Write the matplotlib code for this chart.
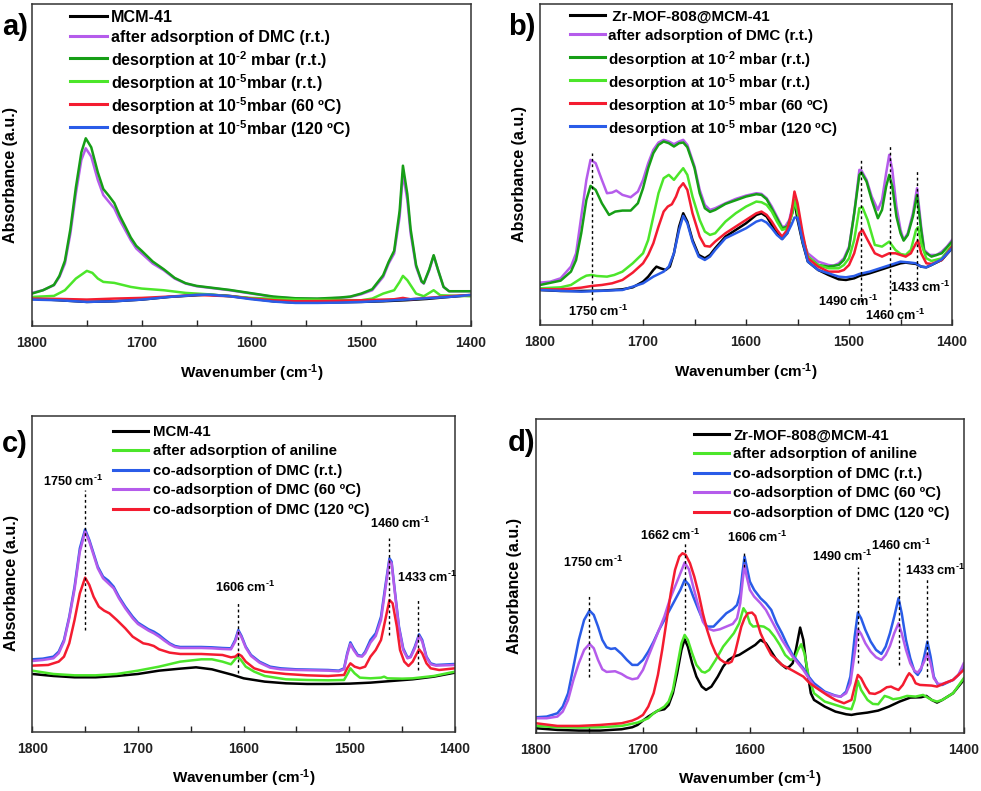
import matplotlib
matplotlib.use("Agg")
import matplotlib.pyplot as plt
from matplotlib.ticker import MultipleLocator

plt.rcParams['font.family'] = ['Liberation Sans', 'DejaVu Sans']
plt.rcParams['font.weight'] = 'bold'
plt.rcParams['mathtext.fontset'] = 'custom'
plt.rcParams['mathtext.rm'] = 'Liberation Sans:bold'
plt.rcParams['mathtext.bf'] = 'Liberation Sans:bold'
plt.rcParams['mathtext.it'] = 'Liberation Sans:bold'

# colours
BLACK = '#000000'
PURPLE = '#B55CEB'
DGREEN = '#169E16'
LIME = '#4CE62A'
RED = '#F41C30'
BLUE = '#2A5CE8'

# ---------------- panel a) MCM-41 + DMC ----------------
a_black_wn = [1800, 1775, 1750, 1725, 1700, 1675, 1650, 1640, 1620, 1600, 1580, 1560, 1540, 1520, 1500, 1480, 1460, 1440, 1420, 1400]
a_black_ab = [82, 77, 72, 74, 79, 87, 92, 94, 90, 82, 74, 70, 70, 71, 72, 74, 77, 81, 87, 92]

a_purple_wn = [1800, 1790, 1780, 1775, 1770, 1765, 1760, 1755, 1751, 1746, 1740, 1735, 1730, 1725, 1720, 1715, 1710, 1705, 1700, 1690,
               1680, 1670, 1660, 1650, 1640, 1620, 1600, 1580, 1560, 1540, 1520, 1510, 1500, 1490, 1480, 1475, 1470, 1465, 1462, 1458,
               1455, 1450, 1445, 1443, 1438, 1434, 1430, 1425, 1420, 1400]
a_purple_ab = [99, 107, 122, 147, 187, 277, 397, 497, 532, 507, 437, 392, 372, 352, 317, 287, 257, 232, 217, 187,
               167, 142, 127, 119, 115, 107, 97, 87, 82, 81, 84, 87, 95, 107, 147, 187, 217, 327, 457, 377,
               277, 177, 132, 127, 167, 210, 167, 117, 104, 104]

a_dgreen_wn = a_purple_wn
a_dgreen_ab = [97, 107, 123, 150, 195, 290, 415, 520, 562, 535, 460, 410, 390, 368, 330, 298, 265, 240, 225, 193,
               170, 144, 128, 120, 116, 108, 98, 88, 83, 82, 85, 88, 97, 110, 152, 192, 225, 345, 480, 395,
               290, 182, 134, 128, 170, 212, 168, 117, 104, 104]

a_lime_wn = [1800, 1780, 1770, 1760, 1750, 1745, 1740, 1735, 1725, 1710, 1700, 1680, 1660, 1640, 1620, 1600, 1560, 1500, 1490, 1480,
             1470, 1465, 1462, 1458, 1450, 1443, 1434, 1428, 1400]
a_lime_ab = [87, 90, 107, 142, 165, 159, 142, 132, 129, 117, 112, 107, 99, 95, 89, 84, 79, 77, 82, 97,
             107, 132, 150, 137, 97, 89, 107, 92, 89]

a_red_wn = [1800, 1775, 1750, 1725, 1700, 1675, 1650, 1620, 1600, 1580, 1560, 1530, 1500, 1470, 1462, 1455, 1440, 1420, 1400]
a_red_ab = [82, 81, 79, 82, 84, 88, 93, 89, 82, 77, 74, 75, 77, 80, 84, 80, 84, 89, 93]

a_blue_wn = [1800, 1775, 1750, 1725, 1700, 1675, 1650, 1640, 1620, 1600, 1580, 1560, 1540, 1520, 1500, 1480, 1460, 1440, 1420, 1400]
a_blue_ab = [79, 77, 72, 74, 79, 87, 93, 94, 89, 80, 73, 69, 69, 70, 72, 75, 79, 83, 87, 93]

# ---------------- panel b) Zr-MOF-808@MCM-41 + DMC ----------------
b_black_wn = [1800, 1780, 1760, 1740, 1720, 1710, 1700, 1695, 1690, 1687, 1683, 1678, 1674, 1670, 1665, 1661, 1657, 1652, 1646, 1640,
              1635, 1630, 1620, 1610, 1600, 1590, 1585, 1580, 1575, 1570, 1565, 1560, 1556, 1553, 1550, 1545, 1540, 1530, 1520, 1510,
              1503, 1495, 1490, 1480, 1470, 1460, 1450, 1445, 1440, 1435, 1430, 1425, 1420, 1410, 1400]
b_black_ab = [105, 102, 102, 103, 107, 113, 130, 145, 165, 175, 170, 165, 175, 215, 295, 335, 310, 255, 210, 200,
              210, 230, 265, 285, 305, 330, 335, 325, 300, 275, 258, 275, 335, 375, 315, 245, 190, 165, 150, 137,
              135, 140, 147, 155, 165, 175, 185, 187, 185, 183, 175, 173, 180, 195, 230]

b_blue_wn = [1800, 1760, 1720, 1700, 1690, 1680, 1675, 1670, 1665, 1661, 1657, 1652, 1646, 1640, 1635, 1630, 1620, 1610, 1600, 1590,
             1585, 1580, 1575, 1570, 1565, 1560, 1556, 1553, 1550, 1545, 1540, 1530, 1520, 1510, 1503, 1495, 1490, 1480, 1470, 1460,
             1450, 1440, 1435, 1430, 1425, 1420, 1410, 1400]
b_blue_ab = [105, 100, 105, 125, 145, 160, 175, 215, 285, 327, 305, 250, 205, 195, 205, 225, 260, 275, 290, 310,
             315, 307, 290, 270, 257, 275, 300, 322, 322, 250, 190, 165, 155, 145, 143, 147, 153, 160, 170, 180,
             190, 187, 185, 175, 173, 180, 197, 230]

b_red_wn = [1800, 1780, 1770, 1760, 1750, 1740, 1730, 1720, 1710, 1700, 1695, 1690, 1685, 1680, 1676, 1672, 1668, 1665, 1661, 1657,
            1652, 1645, 1640, 1635, 1630, 1620, 1610, 1600, 1590, 1585, 1580, 1575, 1570, 1565, 1560, 1556, 1553, 1550, 1545, 1540,
            1530, 1520, 1510, 1505, 1500, 1495, 1490, 1487, 1482, 1475, 1468, 1461, 1455, 1450, 1445, 1440, 1435, 1433, 1430, 1425,
            1420, 1410, 1400]
b_red_ab = [107, 107, 109, 112, 117, 120, 125, 135, 157, 185, 210, 245, 295, 340, 355, 362, 385, 410, 425, 405,
            335, 265, 237, 235, 250, 275, 295, 315, 335, 340, 330, 310, 285, 265, 285, 335, 400, 365, 275, 200,
            175, 160, 160, 165, 180, 215, 275, 285, 255, 215, 205, 215, 215, 210, 205, 215, 245, 253, 215, 185,
            183, 195, 235]

b_lime_wn = [1800, 1780, 1770, 1760, 1755, 1750, 1745, 1735, 1728, 1720, 1710, 1700, 1695, 1690, 1685, 1680, 1675, 1670, 1665, 1661,
             1657, 1652, 1645, 1640, 1635, 1630, 1620, 1610, 1600, 1590, 1585, 1580, 1575, 1570, 1565, 1560, 1556, 1553, 1550, 1545,
             1540, 1530, 1520, 1510, 1505, 1500, 1495, 1490, 1487, 1482, 1475, 1468, 1461, 1455, 1450, 1445, 1440, 1435, 1433, 1430,
             1425, 1420, 1410, 1400]
b_lime_ab = [110, 113, 120, 140, 148, 150, 147, 145, 150, 160, 185, 215, 255, 325, 395, 440, 450, 435, 455, 470,
             450, 385, 315, 280, 270, 275, 310, 335, 355, 370, 368, 360, 340, 310, 285, 290, 325, 375, 335, 265,
             205, 180, 170, 170, 180, 200, 255, 350, 353, 315, 240, 235, 250, 225, 213, 210, 225, 285, 293, 245,
             200, 192, 200, 240]

b_dgreen_wn = [1800, 1780, 1770, 1765, 1760, 1755, 1751, 1746, 1740, 1733, 1727, 1720, 1712, 1705, 1700, 1695, 1690, 1685, 1680, 1675,
               1670, 1665, 1661, 1657, 1650, 1645, 1640, 1635, 1630, 1620, 1600, 1590, 1585, 1580, 1570, 1565, 1560, 1555, 1552, 1549,
               1545, 1540, 1530, 1520, 1510, 1505, 1500, 1495, 1490, 1488, 1483, 1478, 1472, 1468, 1464, 1461, 1458, 1454, 1450, 1447,
               1443, 1438, 1434, 1430, 1427, 1420, 1410, 1400]
b_dgreen_ab = [120, 133, 160, 195, 275, 375, 417, 405, 365, 330, 340, 343, 343, 365, 410, 470, 515, 540, 550, 545,
               535, 545, 547, 533, 470, 395, 350, 339, 345, 363, 385, 392, 390, 377, 320, 290, 295, 335, 375, 325,
               250, 205, 180, 175, 180, 195, 230, 335, 450, 457, 430, 375, 320, 345, 415, 450, 415, 325, 275, 253,
               270, 325, 390, 285, 220, 205, 215, 250]

b_purple_wn = [1800, 1790, 1780, 1770, 1765, 1760, 1755, 1751, 1746, 1740, 1735, 1730, 1726, 1720, 1712, 1705, 1700, 1695, 1690, 1685,
               1680, 1675, 1670, 1665, 1661, 1657, 1650, 1645, 1640, 1635, 1630, 1620, 1610, 1600, 1590, 1585, 1580, 1575, 1570, 1565,
               1562, 1558, 1555, 1552, 1549, 1545, 1540, 1530, 1520, 1515, 1510, 1505, 1500, 1495, 1490, 1488, 1483, 1478, 1472, 1468,
               1464, 1461, 1458, 1454, 1450, 1447, 1443, 1438, 1434, 1430, 1427, 1422, 1415, 1410, 1405, 1400]
b_purple_ab = [127, 130, 140, 175, 215, 325, 435, 495, 485, 435, 395, 397, 403, 390, 383, 400, 435, 485, 525, 547,
               555, 550, 542, 550, 555, 540, 475, 405, 360, 345, 350, 365, 378, 388, 395, 393, 380, 355, 325, 295,
               295, 315, 355, 375, 325, 255, 215, 190, 180, 178, 185, 200, 235, 335, 465, 463, 435, 385, 345, 375,
               455, 510, 465, 355, 285, 255, 275, 335, 410, 295, 225, 210, 210, 220, 235, 255]

# ---------------- panel c) MCM-41 + aniline + DMC ----------------
c_black_wn = [1800, 1780, 1760, 1740, 1720, 1700, 1680, 1660, 1645, 1630, 1610, 1600, 1580, 1560, 1540, 1520, 1500, 1480, 1460, 1440, 1420, 1400]
c_black_ab = [175, 169, 165, 165, 169, 175, 185, 191, 195, 189, 172, 162, 152, 147, 145, 145, 146, 149, 154, 159, 167, 179]

c_lime_wn = [1800, 1780, 1760, 1740, 1720, 1700, 1680, 1660, 1640, 1630, 1620, 1612, 1606, 1603, 1598, 1590, 1580, 1560, 1540, 1520,
             1505, 1501, 1499, 1495, 1490, 1480, 1470, 1467, 1464, 1450, 1440, 1420, 1400]
c_lime_ab = [185, 175, 171, 171, 175, 185, 197, 212, 219, 219, 212, 204, 227, 219, 197, 182, 169, 159, 157, 156,
             157, 179, 192, 177, 164, 162, 164, 167, 162, 161, 162, 169, 182]

c_blue_wn = [1800, 1790, 1780, 1775, 1770, 1765, 1760, 1755, 1750, 1746, 1742, 1738, 1733, 1728, 1723, 1718, 1712, 1705, 1700, 1695,
             1690, 1685, 1680, 1675, 1670, 1665, 1660, 1640, 1630, 1620, 1612, 1608, 1605, 1602, 1598, 1593, 1585, 1575, 1565, 1550,
             1520, 1510, 1505, 1502, 1499, 1496, 1492, 1488, 1485, 1480, 1475, 1470, 1466, 1462, 1460, 1457, 1453, 1449, 1445, 1442,
             1438, 1434, 1431, 1427, 1423, 1418, 1400]
c_blue_ab = [219, 221, 227, 242, 277, 347, 437, 552, 609, 577, 537, 497, 467, 455, 437, 407, 377, 347, 329, 319,
             309, 302, 292, 279, 267, 259, 256, 256, 255, 253, 252, 277, 307, 289, 257, 232, 212, 197, 192, 189,
             187, 185, 192, 237, 270, 252, 232, 229, 242, 277, 297, 347, 437, 522, 512, 427, 317, 252, 225, 227,
             257, 294, 277, 227, 207, 202, 205]

c_purple_wn = c_blue_wn
c_purple_ab = [214, 217, 222, 237, 272, 342, 429, 542, 602, 572, 532, 492, 462, 447, 432, 402, 372, 342, 325, 315,
               305, 297, 287, 275, 264, 256, 253, 253, 252, 250, 249, 272, 302, 285, 254, 229, 209, 194, 189, 187,
               185, 183, 189, 232, 265, 247, 229, 227, 237, 269, 289, 337, 427, 515, 507, 422, 312, 247, 222, 225,
               252, 289, 272, 224, 204, 200, 202]

c_red_wn = [1800, 1785, 1775, 1770, 1765, 1760, 1755, 1750, 1746, 1742, 1737, 1732, 1727, 1720, 1712, 1705, 1700, 1695, 1690, 1685,
            1680, 1670, 1660, 1640, 1620, 1612, 1608, 1605, 1602, 1598, 1590, 1580, 1560, 1540, 1520, 1505, 1502, 1499, 1495, 1490,
            1485, 1480, 1475, 1470, 1466, 1462, 1459, 1455, 1452, 1448, 1444, 1440, 1436, 1434, 1431, 1427, 1423, 1415, 1400]
c_red_ab = [200, 202, 212, 227, 267, 337, 417, 464, 442, 407, 377, 365, 357, 337, 312, 287, 277, 267, 264, 259,
            249, 239, 235, 235, 232, 225, 227, 235, 229, 212, 192, 182, 175, 171, 169, 172, 192, 207, 197, 192,
            197, 227, 247, 277, 337, 397, 387, 317, 247, 212, 199, 212, 237, 249, 237, 207, 192, 187, 192]

# ---------------- panel d) Zr-MOF-808@MCM-41 + aniline + DMC ----------------
d_black_wn = [1800, 1780, 1760, 1740, 1720, 1710, 1705, 1700, 1695, 1690, 1686, 1680, 1676, 1672, 1668, 1664, 1661, 1658, 1654, 1650,
              1645, 1641, 1636, 1630, 1625, 1620, 1615, 1610, 1605, 1600, 1595, 1590, 1585, 1580, 1575, 1570, 1566, 1563, 1560, 1557,
              1553, 1550, 1547, 1543, 1540, 1530, 1520, 1510, 1505, 1500, 1490, 1480, 1470, 1460, 1450, 1440, 1435, 1430, 1425, 1420,
              1410, 1400]
d_black_ab = [15, 10, 8, 8, 12, 18, 25, 38, 50, 60, 68, 72, 85, 120, 180, 250, 282, 260, 210, 170,
              140, 130, 140, 170, 200, 220, 230, 235, 245, 255, 265, 280, 270, 245, 220, 205, 195, 200, 210, 250,
              317, 280, 200, 120, 100, 80, 65, 57, 55, 58, 62, 68, 80, 95, 107, 108, 112, 100, 92, 100,
              120, 160]

d_lime_wn = [1800, 1780, 1760, 1740, 1720, 1705, 1695, 1690, 1685, 1680, 1676, 1672, 1668, 1664, 1661, 1658, 1654, 1650, 1645, 1642,
             1638, 1632, 1625, 1620, 1615, 1610, 1606, 1603, 1600, 1597, 1592, 1587, 1582, 1577, 1572, 1567, 1562, 1558, 1555, 1552,
             1549, 1545, 1540, 1530, 1520, 1510, 1505, 1502, 1499, 1496, 1490, 1485, 1480, 1474, 1470, 1466, 1460, 1453, 1445, 1438,
             1430, 1425, 1420, 1410, 1400]
d_lime_ab = [22, 18, 17, 18, 22, 32, 45, 60, 70, 80, 95, 130, 200, 270, 295, 280, 240, 205, 185, 182,
             190, 220, 260, 280, 300, 330, 375, 360, 330, 320, 322, 320, 310, 290, 265, 235, 220, 225, 250, 267,
             240, 170, 120, 95, 85, 75, 72, 100, 157, 130, 100, 88, 87, 112, 108, 102, 105, 112, 110, 115,
             100, 95, 100, 120, 165]

d_blue_wn = [1800, 1790, 1780, 1775, 1770, 1765, 1760, 1755, 1750, 1746, 1742, 1738, 1734, 1730, 1726, 1720, 1715, 1710, 1705, 1700,
             1695, 1690, 1685, 1680, 1675, 1670, 1665, 1661, 1657, 1653, 1648, 1644, 1640, 1634, 1628, 1622, 1616, 1612, 1609, 1607,
             1605, 1603, 1600, 1596, 1590, 1585, 1580, 1575, 1570, 1565, 1560, 1555, 1550, 1545, 1540, 1530, 1520, 1515, 1510, 1506,
             1502, 1499, 1496, 1492, 1487, 1482, 1477, 1473, 1469, 1465, 1461, 1458, 1454, 1450, 1446, 1443, 1440, 1437, 1434, 1431,
             1428, 1424, 1420, 1410, 1405, 1400]
d_blue_ab = [48, 50, 60, 80, 120, 200, 280, 340, 368, 355, 320, 280, 258, 253, 255, 238, 220, 205, 205, 220,
             245, 275, 310, 340, 370, 400, 430, 460, 445, 410, 370, 340, 320, 320, 340, 360, 372, 385, 420, 480,
             530, 500, 455, 430, 405, 390, 370, 330, 300, 265, 235, 215, 195, 170, 150, 125, 113, 110, 125, 170,
             290, 362, 345, 310, 275, 250, 238, 260, 300, 350, 405, 360, 280, 225, 185, 175, 190, 230, 275, 230,
             170, 145, 145, 160, 175, 200]

d_purple_wn = d_blue_wn
d_purple_ab = [45, 45, 50, 65, 100, 160, 210, 250, 268, 255, 220, 192, 184, 185, 186, 178, 168, 162, 165, 190,
               230, 270, 310, 350, 400, 440, 480, 512, 492, 440, 380, 335, 315, 308, 312, 320, 328, 345, 390, 450,
               505, 470, 430, 410, 390, 370, 340, 310, 280, 255, 230, 210, 190, 165, 142, 122, 112, 110, 120, 150,
               240, 312, 298, 270, 245, 228, 220, 235, 262, 300, 330, 300, 250, 210, 187, 182, 195, 215, 240, 210,
               165, 148, 148, 160, 175, 210]

d_red_wn = [1800, 1780, 1760, 1740, 1720, 1710, 1705, 1700, 1695, 1690, 1686, 1682, 1678, 1674, 1670, 1666, 1663, 1660, 1656, 1652,
            1648, 1644, 1640, 1636, 1632, 1628, 1624, 1620, 1617, 1614, 1611, 1608, 1605, 1602, 1598, 1595, 1590, 1585, 1580, 1575,
            1570, 1560, 1550, 1544, 1535, 1528, 1520, 1512, 1505, 1502, 1499, 1496, 1492, 1488, 1483, 1478, 1472, 1468, 1465, 1461,
            1457, 1453, 1451, 1448, 1445, 1441, 1430, 1425, 1418, 1410, 1400]
d_red_ab = [30, 22, 22, 25, 30, 38, 45, 55, 80, 120, 175, 250, 335, 420, 490, 530, 540, 535, 510, 470,
            420, 360, 310, 270, 240, 222, 213, 210, 215, 240, 280, 320, 345, 360, 362, 352, 300, 265, 235, 222,
            205, 188, 170, 150, 130, 115, 100, 90, 100, 140, 175, 165, 140, 120, 118, 125, 138, 140, 135, 130,
            145, 170, 180, 170, 150, 145, 143, 140, 150, 160, 190]

# legend texts (superscript written with a plain hyphen, as in the figure)
dmc_labels_a = ['MCM-41', 'after adsorption of DMC (r.t.)',
                r'desorption at 10$^{\text{-}2}$ mbar (r.t.)', r'desorption at 10$^{\text{-}5}$mbar (r.t.)',
                r'desorption at 10$^{\text{-}5}$mbar (60 ºC)', r'desorption at 10$^{\text{-}5}$mbar (120 ºC)']
dmc_labels_b = [' Zr-MOF-808@MCM-41', 'after adsorption of DMC (r.t.)',
                r'desorption at 10$^{\text{-}2}$ mbar (r.t.)', r'desorption at 10$^{\text{-}5}$ mbar (r.t.)',
                r'desorption at 10$^{\text{-}5}$ mbar (60 ºC)', r'desorption at 10$^{\text{-}5}$ mbar (120 ºC)']
ani_labels_c = ['MCM-41', 'after adsorption of aniline', 'co-adsorption of DMC (r.t.)',
                'co-adsorption of DMC (60 ºC)', 'co-adsorption of DMC (120 ºC)']
ani_labels_d = ['Zr-MOF-808@MCM-41', 'after adsorption of aniline', 'co-adsorption of DMC (r.t.)',
                'co-adsorption of DMC (60 ºC)', 'co-adsorption of DMC (120 ºC)']

# peak markers: (wavenumber of line, line bottom, line top, label, label x, label y)
b_marks = [(1750, 75, 517, '1750', 1744, 42), (1488, 70, 497, '1490', 1501, 72),
           (1460, 60, 542, '1460', 1455, 30), (1434, 135, 463, '1433', 1431, 114)]
c_marks = [(1750, 307, 727, '1750', 1761, 752), (1605, 177, 392, '1606', 1599, 434),
           (1462, 292, 582, '1460', 1452, 627), (1435, 187, 399, '1433', 1426, 466)]
d_marks = [(1750, 170, 415, '1750', 1747, 514), (1660.5, 310, 575, '1662', 1675, 595),
           (1605.5, 500, 545, '1606', 1593, 588), (1499, 210, 500, '1490', 1514, 532),
           (1461, 205, 530, '1460', 1459, 563), (1434.5, 170, 465, '1433', 1427, 490)]

fig = plt.figure(figsize=(9.81, 7.91), dpi=100)


def make_panel(rect, ymax, curves, labels, leg, marks, letter, letter_xy):
    ax = fig.add_axes(rect)
    for wn, ab, col in curves:
        ax.plot(wn, ab, color=col, lw=1.8, solid_joinstyle='round')
    ax.set_xlim(1800, 1400)
    ax.set_ylim(0, ymax)
    ax.set_yticks([])
    ax.xaxis.set_major_locator(MultipleLocator(100))
    ax.xaxis.set_minor_locator(MultipleLocator(50))
    ax.tick_params(axis='x', which='both', direction='in', length=4, width=1,
                   top=False, labelsize=10, pad=7, colors='#222222')
    for lab in ax.get_xticklabels():
        lab.set_fontweight('bold')
    for s in ax.spines.values():
        s.set_linewidth(1.1)
        s.set_color('#333333')
    ax.set_xlabel(r'Wavenumber (cm$^{\text{-}1}$)', fontsize=11, fontweight='bold')
    ax.xaxis.set_label_coords(0.5, -0.112)
    ax.set_ylabel('Absorbance (a.u.)', fontsize=11.6, fontweight='bold')
    ax.yaxis.set_label_coords(-0.032, 0.47)

    # legend rows drawn by hand so that rows sit where they do in the figure
    hx0, hx1, tx, rows, fs = leg
    for (wn, ab, col), lab, ry in zip(curves, labels, rows):
        ax.plot([hx0, hx1], [ry, ry], color=col, lw=2.2, transform=ax.transAxes)
        ax.text(tx, ry, lab, transform=ax.transAxes, fontsize=fs,
                fontweight='bold', va='center_baseline', ha='left')

    for x, y0, y1, txt, lx, ly in marks:
        ax.plot([x, x], [y0, y1], color='black', lw=1, ls=(0, (2, 2)))
        ax.text(lx, ly, txt + r' cm$^{\text{-}1}$', ha='center', va='center', fontsize=9.2, fontweight='bold')
    fig.text(letter_xy[0], letter_xy[1], letter, fontsize=21, fontweight='bold', va='center', ha='left')
    return ax


leg_a = (0.0866, 0.1708, 0.180, [(326 - y) / 322 for y in (16, 36, 58, 81, 104, 127)], 11.6)
leg_b = (0.0728, 0.1578, 0.165, [(325 - y) / 321 for y in (15, 34, 57, 80, 103, 126)], 10.9)
leg_c = (0.191, 0.2744, 0.2855, [(732.3 - y) / 316.6 for y in (431, 450, 470, 489, 509)], 10.8)
leg_d = (0.3694, 0.4513, 0.461, [(733.3 - y) / 314 for y in (434, 453, 473, 492, 512)], 10.8)

make_panel([0.0326, 0.5879, 0.4475, 0.407], 964,
           [(a_black_wn, a_black_ab, BLACK), (a_purple_wn, a_purple_ab, PURPLE),
            (a_dgreen_wn, a_dgreen_ab, DGREEN), (a_lime_wn, a_lime_ab, LIME),
            (a_red_wn, a_red_ab, RED), (a_blue_wn, a_blue_ab, BLUE)],
           dmc_labels_a, leg_a, [], 'a)', (0.002, 1 - 27 / 791))

make_panel([0.5505, 0.5891, 0.42, 0.4058], 962,
           [(b_black_wn, b_black_ab, BLACK), (b_purple_wn, b_purple_ab, PURPLE),
            (b_dgreen_wn, b_dgreen_ab, DGREEN), (b_lime_wn, b_lime_ab, LIME),
            (b_red_wn, b_red_ab, RED), (b_blue_wn, b_blue_ab, BLUE)],
           dmc_labels_b, leg_b, b_marks, 'b)', (508 / 981, 1 - 27 / 791))

make_panel([0.0329, 0.0742, 0.4309, 0.4003], 950,
           [(c_black_wn, c_black_ab, BLACK), (c_lime_wn, c_lime_ab, LIME),
            (c_blue_wn, c_blue_ab, BLUE), (c_purple_wn, c_purple_ab, PURPLE),
            (c_red_wn, c_red_ab, RED)],
           ani_labels_c, leg_c, c_marks, 'c)', (0.002, 1 - 444 / 791))

make_panel([0.5464, 0.0730, 0.436, 0.397], 942,
           [(d_black_wn, d_black_ab, BLACK), (d_lime_wn, d_lime_ab, LIME),
            (d_blue_wn, d_blue_ab, BLUE), (d_purple_wn, d_purple_ab, PURPLE),
            (d_red_wn, d_red_ab, RED)],
           ani_labels_d, leg_d, d_marks, 'd)', (508 / 981, 1 - 443 / 791))

fig.savefig('out.png', dpi=100)
